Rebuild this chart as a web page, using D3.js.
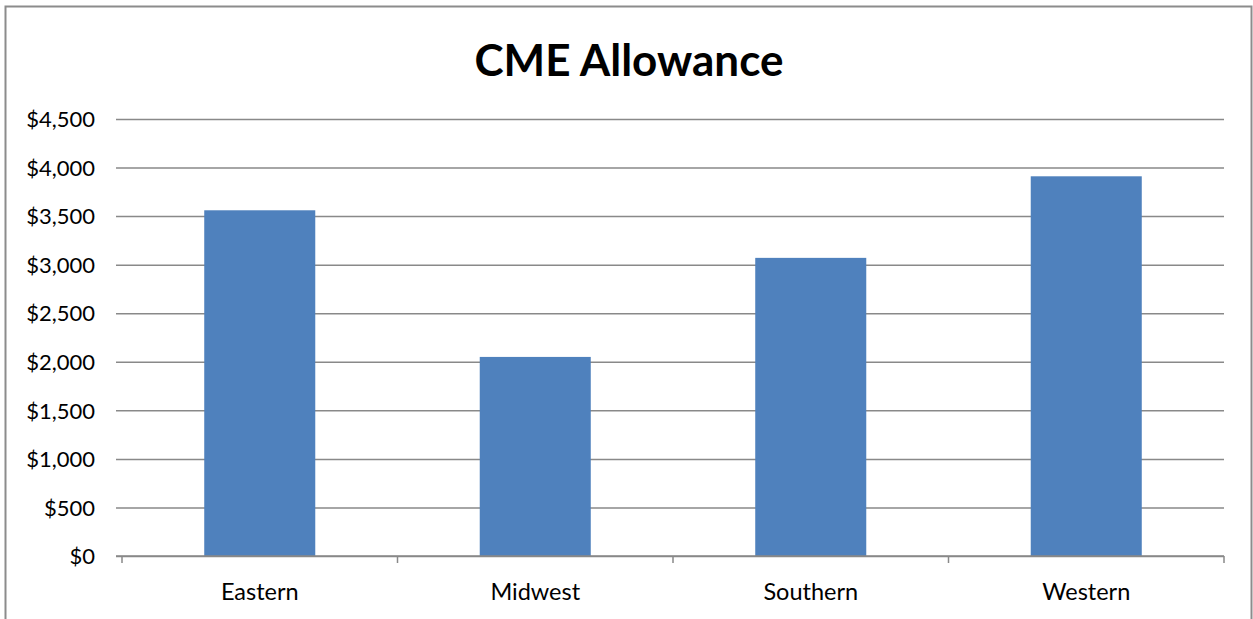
<!DOCTYPE html>
<html><head><meta charset="utf-8">
<script src="https://cdn.jsdelivr.net/npm/d3@7"></script>
<style>body{margin:0;background:#fff;} svg{display:block;} text{font-family:Lato,"Open Sans",sans-serif;}</style>
</head><body>
<svg id="c" width="1253" height="619"></svg>
<script>
const categories = ["Eastern", "Midwest", "Southern", "Western"];
const values = [3560, 2050, 3070, 3910];
const yTicks = [0, 500, 1000, 1500, 2000, 2500, 3000, 3500, 4000, 4500];
const title = "CME Allowance";

const svg = d3.select("#c");
const m = {left: 122, right: 1224, top: 119, bottom: 556};

svg.append("rect").attr("x", 5.5).attr("y", 6.5).attr("width", 1246).attr("height", 640)
  .attr("fill", "#fff").attr("stroke", "#8c8c8c").attr("stroke-width", 2);

const x = d3.scaleBand().domain(categories).range([m.left, m.right]).paddingInner(0.597).paddingOuter(0.2985);
const y = d3.scaleLinear().domain([0, 4500]).range([m.bottom, m.top]);

svg.append("text").attr("x", 629).attr("y", 76).attr("text-anchor", "middle")
  .attr("font-size", 44).attr("font-weight", "bold").attr("fill", "#000").text(title);

const yAxis = d3.axisLeft(y).tickValues(yTicks).tickSize(-(m.right - m.left))
  .tickFormat(d => "$" + d3.format(",")(d));
const gy = svg.append("g").attr("transform", `translate(${m.left - 6},0)`).call(yAxis);
gy.select(".domain").remove();
gy.selectAll(".tick line").attr("x1", 0).attr("x2", m.right - m.left + 6).attr("stroke", "#898989").attr("stroke-width", 1.5);
gy.selectAll(".tick text").attr("font-size", 22).attr("fill", "#000").attr("x", -21).attr("dy", "0.35em");

svg.append("g").selectAll("rect").data(values).join("rect")
  .attr("x", (d, i) => x(categories[i])).attr("width", x.bandwidth())
  .attr("y", d => y(d)).attr("height", d => y(0) - y(d)).attr("fill", "#4f81bd");

const xb = d3.scaleLinear().domain([0, 4]).range([m.left, m.right]);
const gx = svg.append("g").attr("transform", `translate(0,${m.bottom})`);
gx.append("line").attr("x1", m.left - 6).attr("x2", m.right).attr("stroke", "#898989").attr("stroke-width", 1.5);
gx.selectAll(".tk").data(d3.range(5)).join("line").attr("class", "tk")
  .attr("x1", d => xb(d)).attr("x2", d => xb(d)).attr("y1", 0).attr("y2", 7)
  .attr("stroke", "#898989").attr("stroke-width", 1.5);
gx.selectAll(".lb").data(categories).join("text").attr("class", "lb")
  .attr("x", d => x(d) + x.bandwidth() / 2).attr("y", 44).attr("text-anchor", "middle")
  .attr("font-size", 23.5).attr("fill", "#000").text(d => d);
</script>
</body></html>
